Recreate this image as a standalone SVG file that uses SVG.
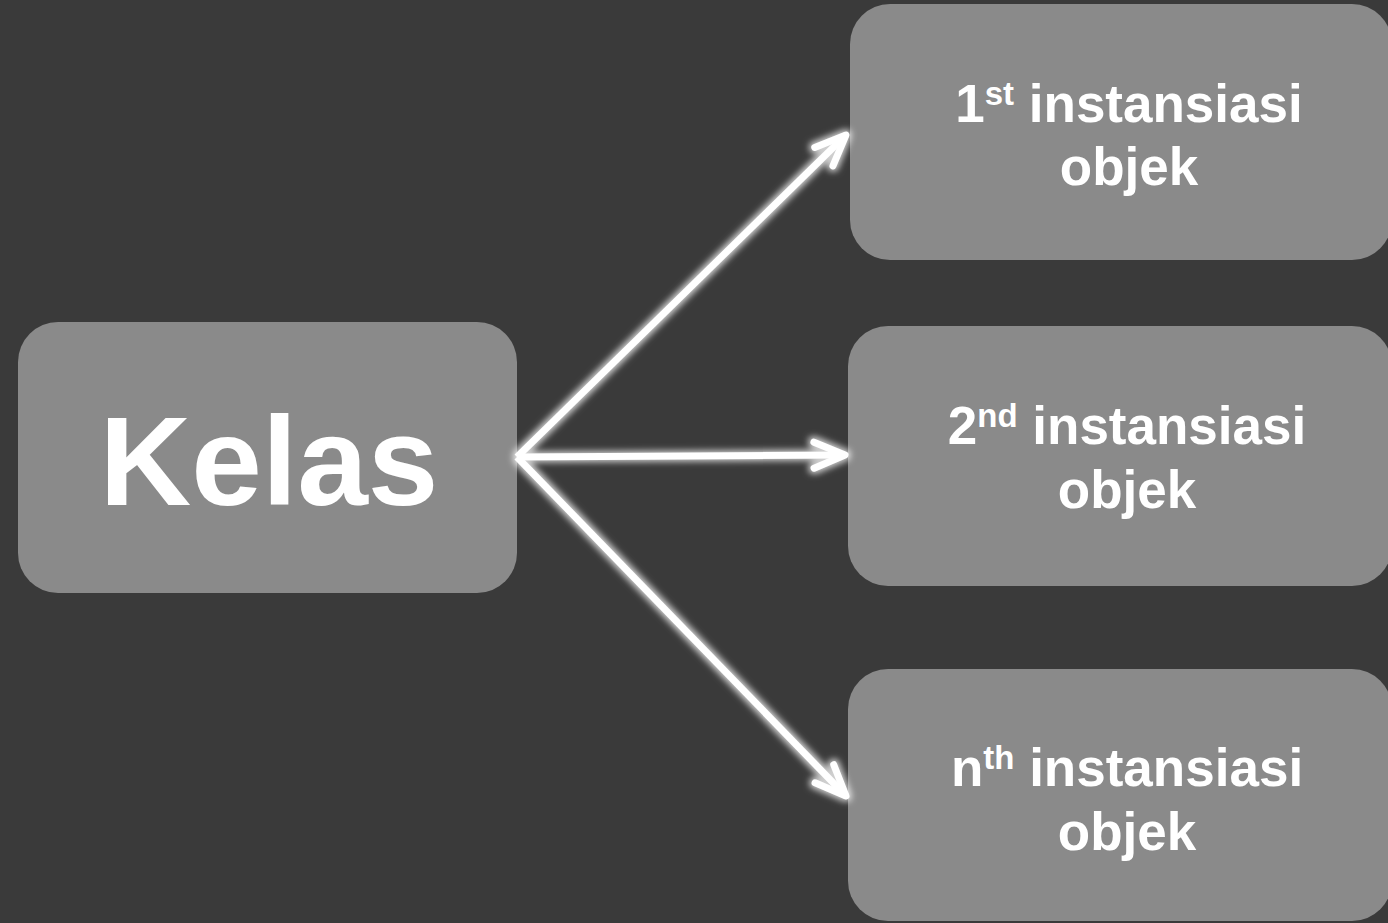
<svg xmlns="http://www.w3.org/2000/svg" width="1388" height="923" viewBox="0 0 1388 923">
<style>
.box{fill:#8a8a8a}
.t{font-family:"Liberation Sans",Arial,sans-serif;font-weight:bold;fill:#ffffff;text-anchor:middle}
.lbl{font-size:53px}
.sup{font-size:33px}
.con{stroke:#ffffff;stroke-width:7;fill:none;marker-end:url(#arr)}
</style>
<defs>
<marker id="arr" markerUnits="userSpaceOnUse" markerWidth="60" markerHeight="60" refX="0" refY="0" orient="auto" overflow="visible">
<path d="M-31,-13 L0,0 L-31,13" fill="none" stroke="#ffffff" stroke-width="7" stroke-linecap="round" stroke-linejoin="round"/>
</marker>
<filter id="glow" x="-20%" y="-20%" width="140%" height="140%">
<feMorphology in="SourceAlpha" operator="dilate" radius="2" result="d"/>
<feGaussianBlur in="d" stdDeviation="3" result="b"/>
<feFlood flood-color="#ffffff" flood-opacity="0.75"/>
<feComposite in2="b" operator="in" result="g"/>
<feMerge><feMergeNode in="g"/><feMergeNode in="SourceGraphic"/></feMerge>
</filter>
</defs>
<rect x="0" y="0" width="1388" height="923" fill="#3a3a3a"/>
<g id="kelas">
<rect class="box" x="18" y="322" width="499" height="271" rx="40" ry="40"/>
<text class="t" x="269" y="505" font-size="127">Kelas</text>
</g>
<g id="obj1">
<rect class="box" x="850" y="4" width="542" height="256" rx="40" ry="40"/>
<text class="t lbl" x="1129" y="122">1<tspan class="sup" dy="-17">st</tspan><tspan dy="17"> instansiasi</tspan></text>
<text class="t lbl" x="1129" y="185">objek</text>
</g>
<g id="obj2">
<rect class="box" x="848" y="326" width="544" height="260" rx="40" ry="40"/>
<text class="t lbl" x="1127" y="444">2<tspan class="sup" dy="-17">nd</tspan><tspan dy="17"> instansiasi</tspan></text>
<text class="t lbl" x="1127" y="508">objek</text>
</g>
<g id="objn">
<rect class="box" x="848" y="669" width="544" height="252" rx="40" ry="40"/>
<text class="t lbl" x="1127" y="786">n<tspan class="sup" dy="-17">th</tspan><tspan dy="17"> instansiasi</tspan></text>
<text class="t lbl" x="1127" y="850">objek</text>
</g>
<g id="connectors" filter="url(#glow)">
<line class="con" x1="517" y1="457" x2="846" y2="135"/>
<line class="con" x1="517" y1="457" x2="845" y2="455"/>
<line class="con" x1="517" y1="457" x2="846" y2="796"/>
</g>
</svg>
